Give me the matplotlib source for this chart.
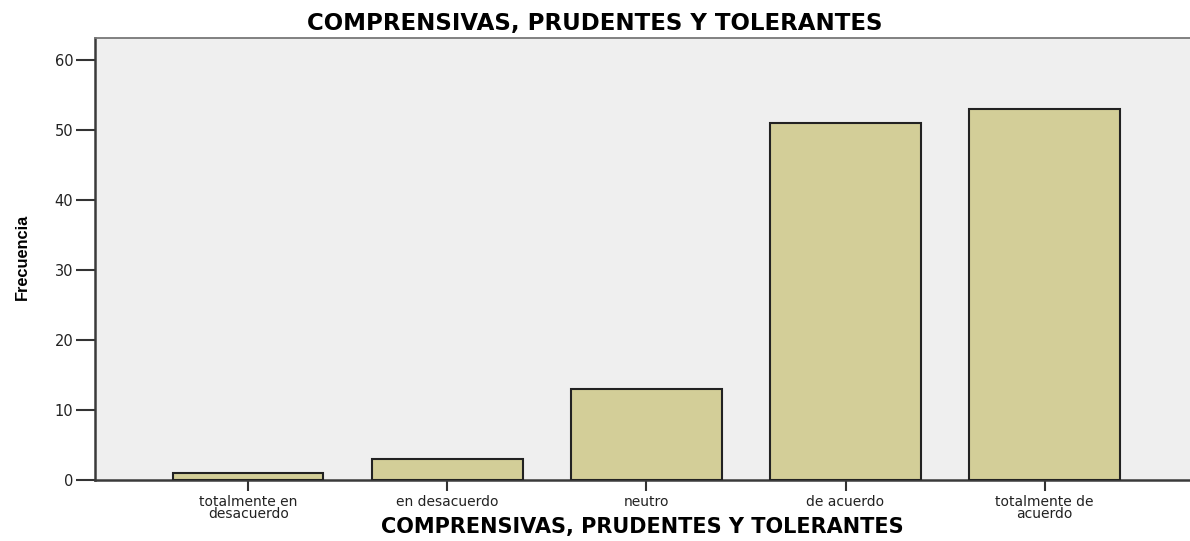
import matplotlib
matplotlib.use('Agg')
import matplotlib.pyplot as plt
import numpy as np

# Frecuencias por categoría de respuesta
categorias = ['totalmente en\ndesacuerdo', 'en desacuerdo', 'neutro',
              'de acuerdo', 'totalmente de\nacuerdo']
frecuencias = [1, 3, 13, 51, 53]
yticks = [0, 10, 20, 30, 40, 50, 60]
titulo = 'COMPRENSIVAS, PRUDENTES Y TOLERANTES'

plt.rcParams['font.family'] = ['DejaVu Sans']

fig = plt.figure(figsize=(11.9, 5.41), dpi=100)
ax = fig.add_axes([0.0798, 0.1128, 0.9202, 0.817])
ax.set_facecolor('#efefef')

x = np.arange(len(categorias))
ax.bar(x, frecuencias, width=0.755, color='#d3ce98', edgecolor='#222222',
       linewidth=1.5, zorder=3)

ax.set_xlim(-0.77, 4.73)
ax.set_ylim(0, 63.1)
ax.set_yticks(yticks)
ax.set_xticks(x)
ax.set_xticklabels(categorias, fontsize=10, linespacing=0.75)
ax.tick_params(axis='y', length=14, width=1.5, color='#333333',
               labelsize=10.5, pad=1.5, labelcolor='#222222')
ax.tick_params(axis='x', length=8, width=1.5, color='#333333', pad=3,
               labelcolor='#222222')

for lado in ['left', 'bottom']:
    ax.spines[lado].set_color('#3a3a3a')
    ax.spines[lado].set_linewidth(1.8)
ax.spines['top'].set_color('#777777')
ax.spines['top'].set_linewidth(1.3)
ax.spines['right'].set_visible(False)

# Título centrado en la figura, rótulo X centrado bajo el eje
fig.text(0.5, 0.956, titulo, ha='center', va='center', fontsize=16.5,
         fontweight='bold')
fig.text(0.54, 0.026, titulo, ha='center', va='center', fontsize=15,
         fontweight='bold')
fig.text(0.0185, 0.526, 'Frecuencia', rotation=90, ha='center', va='center',
         fontsize=11.8, fontweight='bold',
         family=['Liberation Sans', 'DejaVu Sans'])

fig.savefig('out.png', dpi=100)
